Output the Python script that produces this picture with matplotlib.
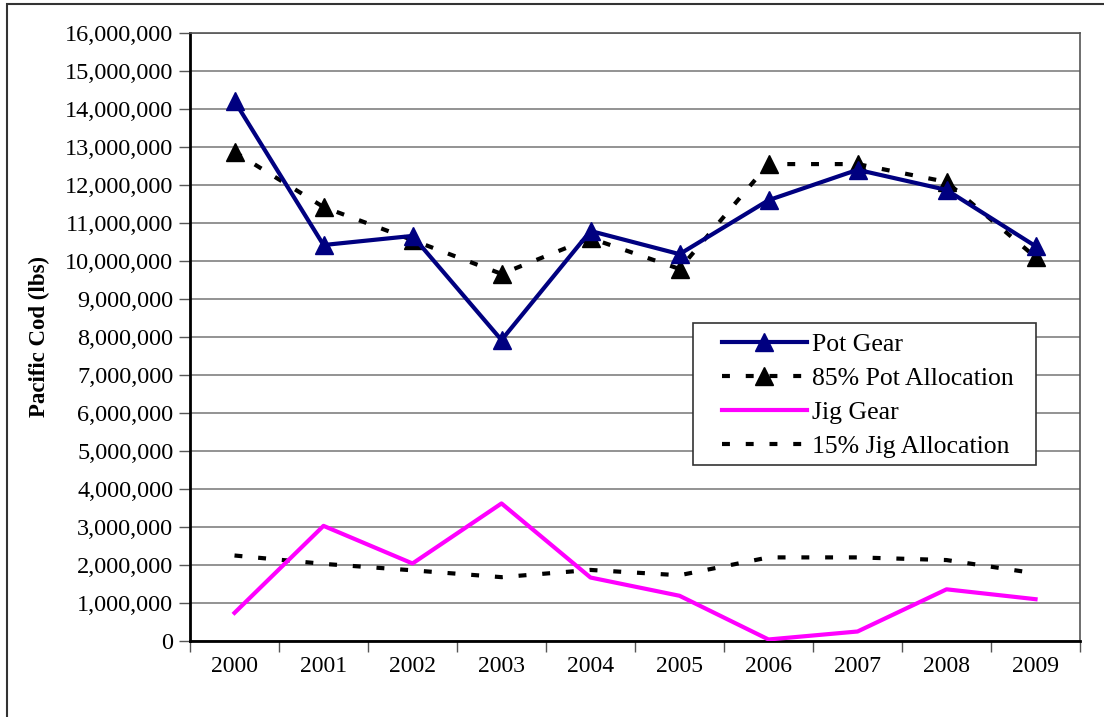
import matplotlib
matplotlib.use("Agg")
import matplotlib.pyplot as plt
import numpy as np
from matplotlib.patches import Rectangle
from matplotlib.ticker import FuncFormatter, FixedLocator

plt.rcParams['font.family'] = ['Liberation Serif', 'DejaVu Serif']

years = ["2000", "2001", "2002", "2003", "2004", "2005", "2006", "2007", "2008", "2009"]
pot_gear = [14.21, 10.42, 10.66, 7.92, 10.79, 10.18, 11.60, 12.40, 11.87, 10.39]
pot_alloc = [12.87, 11.42, 10.55, 9.66, 10.60, 9.79, 12.55, 12.55, 12.08, 10.10]
jig_gear = [0.74, 3.03, 2.04, 3.62, 1.67, 1.19, 0.04, 0.25, 1.36, 1.10]
jig_alloc = [2.25, 2.03, 1.86, 1.68, 1.87, 1.73, 2.20, 2.20, 2.13, 1.78]

scale = 1e6
x = np.arange(len(years))

fig = plt.figure(figsize=(11.04, 7.17), dpi=100)
ax = fig.add_axes([0.1721, 0.106, 0.8062, 0.848])

# outer chart border
fig.patches.append(Rectangle((7 / 1104, -0.05), 1.2, 1 - 4 / 717 + 0.05,
                             transform=fig.transFigure, fill=False,
                             edgecolor="#333333", linewidth=1.5))

dash = (0, (1.9, 3.8))
ax.plot(x, np.array(pot_gear) * scale, color="#000080", lw=3, marker="^",
        ms=12.5, label="Pot Gear", zorder=4)
ax.plot(x, np.array(pot_alloc) * scale, color="black", lw=3, ls=dash,
        marker="^", ms=12.5, label="85% Pot Allocation", zorder=3)
ax.plot(x, np.array(jig_gear) * scale, color="#FF00FF", lw=3, label="Jig Gear", zorder=4)
ax.plot(x, np.array(jig_alloc) * scale, color="black", lw=3, ls=dash,
        label="15% Jig Allocation", zorder=3)

ax.set_xlim(-0.5, len(years) - 0.5)
ax.set_ylim(0, 16e6)
ax.yaxis.set_major_locator(FixedLocator(np.arange(0, 16e6 + 1, 1e6)))
ax.yaxis.set_major_formatter(FuncFormatter(lambda v, p: f"{int(v):,}"))
ax.grid(axis="y", color="#808080", lw=1.2)
ax.set_axisbelow(True)

ax.set_xticks(x)
ax.set_xticklabels(years)
ax.set_xticks(np.arange(-0.5, len(years), 1), minor=True)
ax.tick_params(axis="x", which="major", length=0, pad=11, labelsize=17)
ax.tick_params(axis="x", which="minor", length=8, width=1, color="#555555", direction="out")
ax.tick_params(axis="y", length=8, width=1, color="#555555", direction="out", labelsize=17.5, pad=4)

ax.spines["left"].set_linewidth(2)
ax.spines["bottom"].set_linewidth(2)
ax.spines["top"].set_color("#555555")
ax.spines["right"].set_color("#555555")
ax.spines["top"].set_linewidth(1.2)
ax.spines["right"].set_linewidth(1.2)

ax.set_ylabel("Pacific Cod (lbs)", fontsize=16.5, fontweight="bold", labelpad=11)

# legend box drawn separately so its padding matches the original
ax.add_patch(Rectangle((0.5652, 0.2895), 0.9506 - 0.5652, 0.5230 - 0.2895,
                       transform=ax.transAxes, facecolor="white",
                       edgecolor="#333333", lw=1.2, zorder=5))
leg = ax.legend(loc="upper left", bbox_to_anchor=((722 - 190) / 890, (641 - 333) / 608),
                fontsize=18.5, frameon=False, handlelength=3.3, borderpad=0,
                labelspacing=0.43, handletextpad=0.2, borderaxespad=0)
leg.set_zorder(6)

fig.savefig("out.png", dpi=100)
